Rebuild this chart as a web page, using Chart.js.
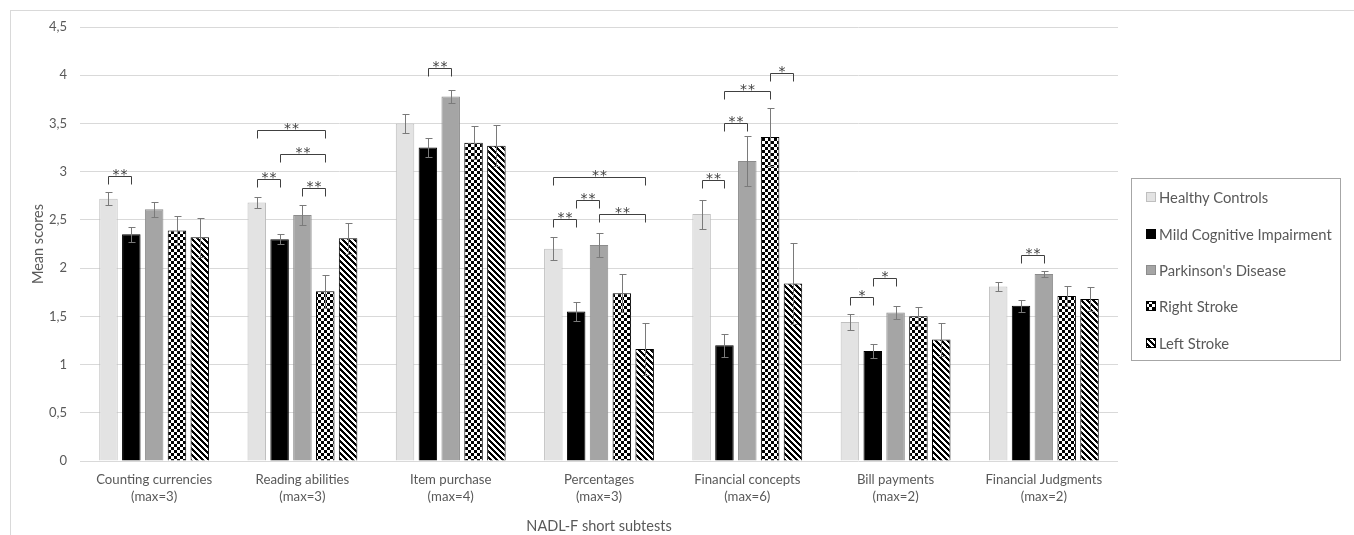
<!DOCTYPE html>
<html>
<head>
<meta charset="utf-8">
<script src="https://cdn.jsdelivr.net/npm/chart.js@4.4.1/dist/chart.umd.min.js"></script>
<style>
  html, body { margin:0; padding:0; background:#fff; }
  #wrap { position:relative; width:1354px; height:535px; overflow:hidden; }
  #frame { position:absolute; left:10px; top:10px; width:1400px; height:600px; border:1px solid #d9d9d9; }
  #chart { position:absolute; left:0; top:0; }
  #legend { position:absolute; left:1131px; top:178px; width:210px; height:183px; box-sizing:border-box;
            border:1px solid #a6a6a6; font:14.8px Lato, sans-serif; color:#595959; }
  #legend .item { display:flex; align-items:center; height:36.4px; padding-left:14px; white-space:nowrap; }
  #legend canvas { width:10px; height:10px; margin-right:3px; }
</style>
</head>
<body>
<div id="wrap">
  <div id="frame"></div>
  <canvas id="chart" width="1354" height="535"></canvas>
  <div id="legend"></div>
</div>
<script>
const categories = [
  ["Counting currencies", "(max=3)"],
  ["Reading abilities", "(max=3)"],
  ["Item purchase", "(max=4)"],
  ["Percentages", "(max=3)"],
  ["Financial concepts", "(max=6)"],
  ["Bill payments", "(max=2)"],
  ["Financial Judgments", "(max=2)"],
];
const groups = ["Healthy Controls", "Mild Cognitive Impairment", "Parkinson's Disease", "Right Stroke", "Left Stroke"];

const hc     = [2.72, 2.68, 3.50, 2.20, 2.56, 1.44, 1.81];
const hcErr  = [0.07, 0.06, 0.10, 0.12, 0.15, 0.08, 0.05];
const mci    = [2.35, 2.30, 3.25, 1.55, 1.20, 1.14, 1.61];
const mciErr = [0.08, 0.05, 0.10, 0.10, 0.12, 0.07, 0.06];
const pd     = [2.61, 2.55, 3.78, 2.24, 3.11, 1.54, 1.94];
const pdErr  = [0.08, 0.10, 0.07, 0.12, 0.26, 0.07, 0.03];
const rs     = [2.39, 1.76, 3.30, 1.74, 3.36, 1.50, 1.71];
const rsErr  = [0.15, 0.17, 0.17, 0.20, 0.30, 0.10, 0.10];
const ls     = [2.32, 2.31, 3.27, 1.16, 1.84, 1.26, 1.68];
const lsErr  = [0.20, 0.16, 0.21, 0.27, 0.42, 0.17, 0.12];

const yTicks = [0, 0.5, 1, 1.5, 2, 2.5, 3, 3.5, 4, 4.5];

// significance brackets: [category, from group, to group, level, label]
const brackets = [
  [0, 0, 1, 2.95, "**"],
  [1, 0, 1, 2.92, "**"],
  [1, 0, 3, 3.43, "**"],
  [1, 1, 3, 3.18, "**"],
  [1, 2, 3, 2.83, "**"],
  [2, 1, 2, 4.07, "**"],
  [3, 0, 1, 2.51, "**"],
  [3, 1, 2, 2.71, "**"],
  [3, 2, 4, 2.56, "**"],
  [3, 0, 4, 2.94, "**"],
  [4, 0, 1, 2.91, "**"],
  [4, 1, 2, 3.50, "**"],
  [4, 1, 3, 3.84, "**"],
  [4, 3, 4, 4.02, "*"],
  [5, 0, 1, 1.70, "*"],
  [5, 1, 2, 1.90, "*"],
  [6, 1, 2, 2.14, "**"],
];

const FONT = "Lato, sans-serif";
const TXT = "#595959";

function pattern(kind) {
  const c = document.createElement("canvas");
  c.width = 6; c.height = 6;
  const g = c.getContext("2d");
  g.fillStyle = "#fff"; g.fillRect(0, 0, 6, 6);
  g.fillStyle = "#000";
  for (let x = 0; x < 6; x++) for (let y = 0; y < 6; y++) {
    const on = kind === "check"
      ? (Math.floor(x / 3) + Math.floor(y / 3)) % 2 === 0
      : ((x - y) % 6 + 6) % 6 < 3;
    if (on) g.fillRect(x, y, 1, 1);
  }
  return g.createPattern(c, "repeat");
}

const fills   = ["#e3e3e3", "#000000", "#a5a5a5", pattern("check"), pattern("diag")];
const borders = ["#bfbfbf", "#000000", "#8c8c8c", "#000000", "#000000"];
const series  = [hc, mci, pd, rs, ls];
const errs    = [hcErr, mciErr, pdErr, rsErr, lsErr];

const overlay = {
  id: "overlay",
  afterDatasetsDraw(chart) {
    const { ctx, scales: { y } } = chart;
    ctx.save();
    ctx.lineWidth = 1;
    ctx.strokeStyle = "#7a7a7a";
    errs.forEach((arr, i) => {
      chart.getDatasetMeta(i).data.forEach((bar, j) => {
        const v = series[i][j];
        const x = Math.round(bar.x) + 0.5;
        const t = Math.round(y.getPixelForValue(v + arr[j])) + 0.5;
        const b = Math.round(y.getPixelForValue(v - arr[j])) + 0.5;
        ctx.beginPath();
        ctx.moveTo(x, t); ctx.lineTo(x, b);
        ctx.moveTo(x - 3, t); ctx.lineTo(x + 4, t);
        ctx.moveTo(x - 3, b); ctx.lineTo(x + 4, b);
        ctx.stroke();
      });
    });
    ctx.strokeStyle = "#404040";
    ctx.fillStyle = "#404040";
    ctx.font = "14px 'DejaVu Sans', sans-serif";
    ctx.letterSpacing = "1px";
    ctx.textAlign = "center";
    ctx.textBaseline = "alphabetic";
    brackets.forEach(([c, a, b, lvl, lab]) => {
      const x1 = Math.round(chart.getDatasetMeta(a).data[c].x) + 0.5;
      const x2 = Math.round(chart.getDatasetMeta(b).data[c].x) + 0.5;
      const yy = Math.round(y.getPixelForValue(lvl)) + 0.5;
      ctx.beginPath();
      ctx.moveTo(x1, yy + 8); ctx.lineTo(x1, yy); ctx.lineTo(x2, yy); ctx.lineTo(x2, yy + 8);
      ctx.stroke();
      ctx.fillText(lab, (x1 + x2) / 2 + 0.5, yy + 2);
    });
    ctx.restore();
  }
};

new Chart(document.getElementById("chart"), {
  type: "bar",
  data: {
    labels: categories,
    datasets: groups.map((name, i) => ({
      label: name,
      data: series[i],
      backgroundColor: fills[i],
      borderColor: borders[i],
      borderWidth: 1,
      categoryPercentage: 0.77,
      barPercentage: 0.81,
    }))
  },
  options: {
    responsive: false,
    animation: false,
    layout: { padding: { left: 27, top: 27, right: 236, bottom: 0 } },
    plugins: { legend: { display: false }, tooltip: { enabled: false } },
    scales: {
      x: {
        grid: { display: false, drawTicks: false },
        border: { display: false },
        ticks: { color: TXT, font: { family: FONT, size: 13.2, lineHeight: 1.32 }, padding: 10, maxRotation: 0, autoSkip: false },
        title: { display: true, text: "NADL-F short subtests", color: TXT, font: { family: FONT, size: 14.5 }, padding: { top: 0, bottom: 0 } },
        afterFit: s => { s.height = 74; }
      },
      y: {
        min: 0, max: 4.5,
        afterBuildTicks: s => { s.ticks = yTicks.map(v => ({ value: v })); },
        grid: { color: "#d9d9d9", drawTicks: false },
        border: { display: false },
        ticks: { color: TXT, font: { family: FONT, size: 13 }, padding: 13,
                 callback: v => String(v).replace(".", ",") },
        title: { display: true, text: "Mean scores", color: TXT, font: { family: FONT, size: 14.5 }, padding: { top: 3, bottom: 3 } },
        afterFit: s => { s.width = 53; }
      }
    }
  },
  plugins: [overlay]
});

const legend = document.getElementById("legend");
groups.forEach((name, i) => {
  const row = document.createElement("div");
  row.className = "item";
  const sw = document.createElement("canvas");
  sw.width = 10; sw.height = 10;
  const g = sw.getContext("2d");
  g.fillStyle = fills[i]; g.fillRect(0, 0, 10, 10);
  g.strokeStyle = borders[i]; g.strokeRect(0.5, 0.5, 9, 9);
  row.appendChild(sw);
  const t = document.createElement("span");
  t.textContent = name;
  row.appendChild(t);
  legend.appendChild(row);
});
</script>
</body>
</html>
